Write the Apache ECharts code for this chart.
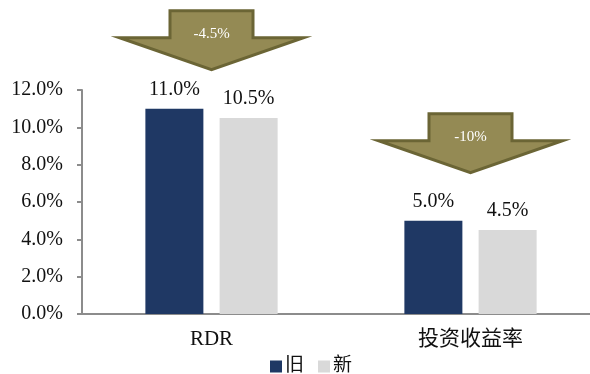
<!DOCTYPE html>
<html>
<head>
<meta charset="utf-8">
<script src="https://cdn.jsdelivr.net/npm/echarts@6/dist/echarts.min.js"></script>
<style>
  html, body { margin: 0; padding: 0; background: #fff; }
  #chart { width: 590px; height: 374px; }
</style>
</head>
<body>
<div id="chart"></div>
<script>
// Categories and series values (percent)
const categories = ['RDR', '投资收益率'];
const oldValues = [11.0, 5.0];
const newValues = [10.5, 4.5];
const changeLabels = ['-4.5%', '-10%'];
const yTicks = { min: 0, max: 12, interval: 2 };

// Arrow layout: gap in px between arrow tip and the taller bar of each pair
const arrowGap = [39, 48];

const serif = '"Liberation Serif", "Times New Roman", serif';
const cjk = '"Liberation Serif", "Noto Sans CJK SC", sans-serif';

const chart = echarts.init(document.getElementById('chart'));

const valueLabel = {
  show: true,
  position: 'top',
  distance: 9,
  color: '#111',
  fontFamily: serif,
  fontSize: 20,
  formatter: p => p.value.toFixed(1) + '%'
};

chart.setOption({
  animation: false,
  grid: { left: 82, top: 90, bottom: 60, width: 518, outerBoundsMode: 'none' },
  legend: {
    bottom: -7,
    left: 265,
    icon: 'rect',
    itemWidth: 12,
    itemHeight: 12,
    itemGap: 14,
    textStyle: { fontFamily: cjk, fontSize: 19, color: '#111', padding: [0, 0, 0, -2] },
    data: ['旧', '新']
  },
  xAxis: {
    type: 'category',
    data: categories,
    axisLine: { lineStyle: { color: '#8c8c8c', width: 2 } },
    axisTick: { show: false },
    axisLabel: { color: '#111', fontFamily: cjk, fontSize: 21, margin: 15 }
  },
  yAxis: {
    type: 'value',
    min: yTicks.min,
    max: yTicks.max,
    interval: yTicks.interval,
    splitLine: { show: false },
    axisLine: { show: true, lineStyle: { color: '#8c8c8c', width: 2 } },
    axisTick: { show: true, length: 5, lineStyle: { color: '#8c8c8c', width: 2 } },
    axisLabel: {
      color: '#111',
      fontFamily: serif,
      fontSize: 20,
      margin: 19,
      formatter: v => v.toFixed(1) + '%'
    }
  },
  series: [
    {
      name: '旧',
      type: 'bar',
      data: oldValues,
      barWidth: 58,
      barGap: '28%',
      itemStyle: { color: '#1f3864' },
      label: valueLabel
    },
    {
      name: '新',
      type: 'bar',
      data: newValues,
      barWidth: 58,
      itemStyle: { color: '#d9d9d9' },
      label: valueLabel
    }
  ]
});

// Down arrows above each category showing the relative change
function downArrow(cx, tipY, text) {
  const headW = 184, shaftW = 83, shaftH = 27, headH = 32;
  const top = tipY - headH - shaftH;
  const headTop = top + shaftH;
  return {
    type: 'group',
    children: [
      {
        type: 'polygon',
        shape: {
          points: [
            [cx - shaftW / 2, top],
            [cx + shaftW / 2, top],
            [cx + shaftW / 2, headTop],
            [cx + headW / 2, headTop],
            [cx, tipY],
            [cx - headW / 2, headTop],
            [cx - shaftW / 2, headTop]
          ]
        },
        style: { fill: '#948a54', stroke: '#6b6535', lineWidth: 3, lineJoin: 'miter' }
      },
      {
        type: 'text',
        x: cx,
        y: top + 23,
        style: {
          text: text,
          fill: '#fff',
          fontFamily: serif,
          fontSize: 15,
          align: 'center',
          verticalAlign: 'middle'
        }
      }
    ]
  };
}

const arrows = categories.map((c, i) => {
  const cx = chart.convertToPixel({ xAxisIndex: 0 }, c);
  const maxVal = Math.max(oldValues[i], newValues[i]);
  const tipY = chart.convertToPixel({ yAxisIndex: 0 }, maxVal) - arrowGap[i];
  return downArrow(cx, tipY, changeLabels[i]);
});

chart.setOption({ graphic: arrows });
</script>
</body>
</html>
